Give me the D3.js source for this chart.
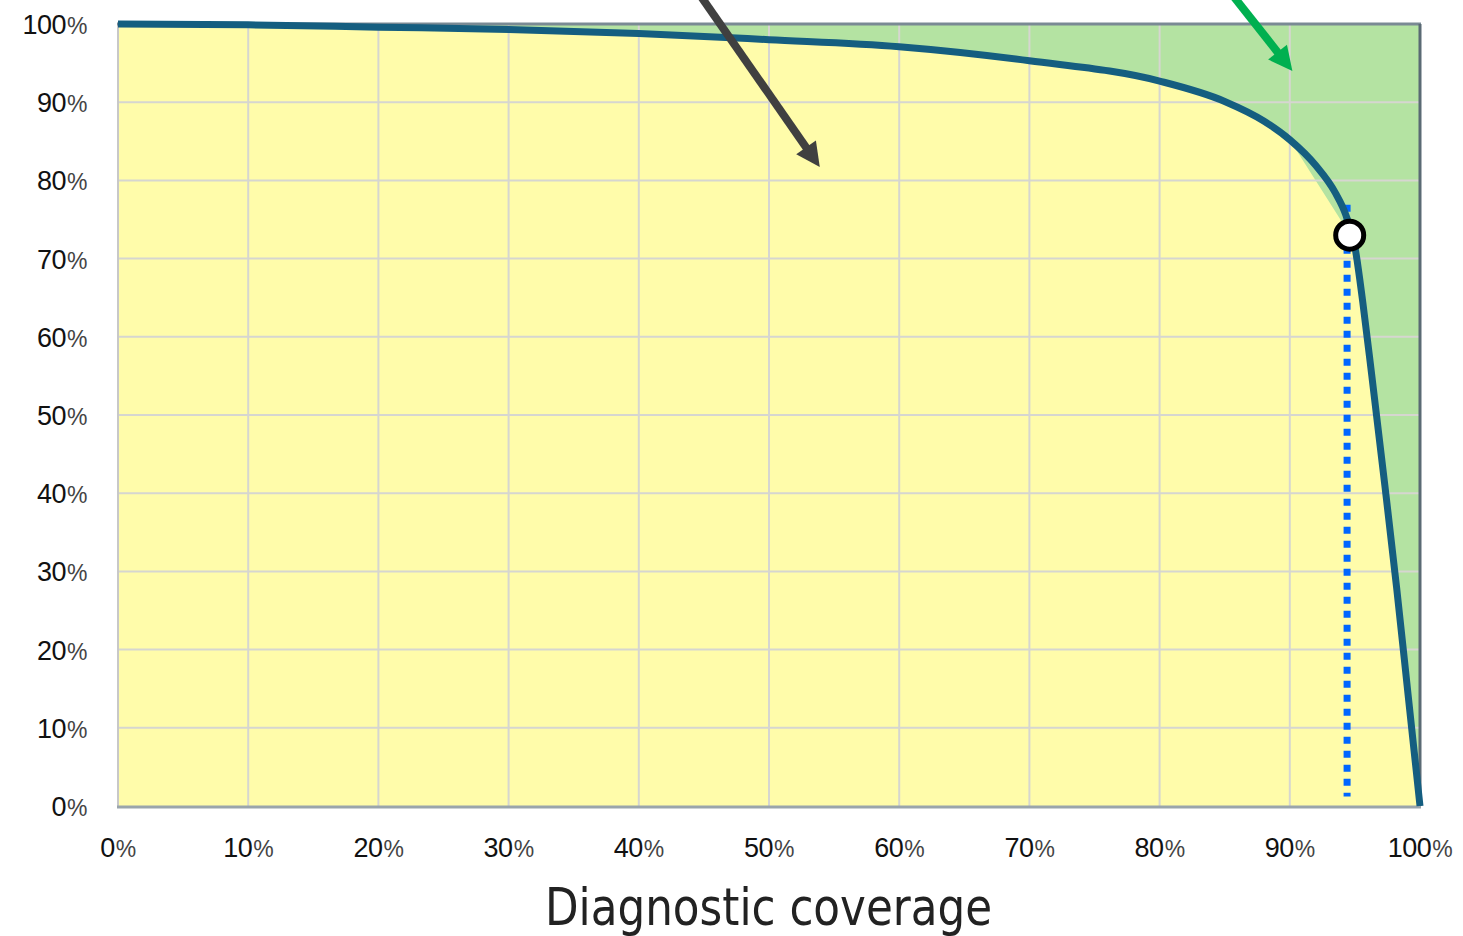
<!DOCTYPE html>
<html><head><meta charset="utf-8">
<script src="https://cdn.jsdelivr.net/npm/d3@7"></script>
<style>body{margin:0;background:#fff}svg{display:block}</style>
</head><body>
<svg id="c" width="1463" height="936"></svg>
<script>
// Data (percent)
const lineX = [0, 10, 20, 30, 40, 50, 60, 70, 80, 85, 88, 90, 92, 93.5, 94.3, 95.0, 95.6, 96.3, 97.3, 98.2, 99.1, 100];
const lineY = [100, 99.9, 99.6, 99.3, 98.8, 98.0, 97.1, 95.3, 92.7, 90.1, 87.6, 85.2, 81.9, 78.4, 75.6, 71.5, 64.5, 55, 41, 28, 14, 0];
const areaX = [0, 10, 20, 30, 40, 50, 60, 70, 75, 80, 85, 88, 90, 94.8, 95.0, 95.6, 96.3, 97.3, 98.2, 99.1, 100];
const areaY = [100, 99.9, 99.6, 99.3, 98.8, 98.0, 97.1, 95.3, 94.1, 92.7, 90.1, 87.6, 85.2, 72.6, 71.5, 64.5, 55, 41, 28, 14, 0];
const xTicks = [0, 10, 20, 30, 40, 50, 60, 70, 80, 90, 100];
const yTicks = [0, 10, 20, 30, 40, 50, 60, 70, 80, 90, 100];
const markerPoint = [94.6, 73.0];
const dottedX = 94.4, dottedYRange = [1.2, 76.9];
const arrows = [
  {from: [44.7, 103.7], to: [53.9, 81.7], color: "#404040"},
  {from: [85.6, 103.7], to: [90.2, 94.0], color: "#00b050"}
];
const xTitle = "Diagnostic coverage";

const svg = d3.select("#c");
const L = 118, R = 1420, T = 24, B = 806;
const x = d3.scaleLinear().domain([0, 100]).range([L, R]);
const y = d3.scaleLinear().domain([0, 100]).range([B, T]);

// green background
svg.append("rect").attr("x", L).attr("y", T).attr("width", R - L).attr("height", B - T).attr("fill", "#b4e3a2");

// yellow area
const areaPts = areaX.map((d, i) => [d, areaY[i]]);
svg.append("path").datum(areaPts)
  .attr("d", d3.area().x(d => x(d[0])).y0(y(0)).y1(d => y(d[1])).curve(d3.curveLinear))
  .attr("fill", "#fffcaa");

// grid
const g = svg.append("g");
g.selectAll(".vx").data(xTicks.slice(1, -1)).join("line")
  .attr("x1", d => x(d)).attr("x2", d => x(d)).attr("y1", T).attr("y2", B)
  .attr("stroke", "#d6d6d0").attr("stroke-width", 2);
g.selectAll(".hy").data(yTicks.slice(1, -1)).join("line")
  .attr("y1", d => y(d)).attr("y2", d => y(d)).attr("x1", L).attr("x2", R)
  .attr("stroke", "#d6d6d0").attr("stroke-width", 2);

// borders
svg.append("line").attr("x1", L).attr("x2", L).attr("y1", T).attr("y2", B).attr("stroke", "#c8c8c8").attr("stroke-width", 2);
svg.append("line").attr("x1", L - 1).attr("x2", R + 1).attr("y1", T).attr("y2", T).attr("stroke", "#7a8a94").attr("stroke-width", 3);
svg.append("line").attr("x1", R).attr("x2", R).attr("y1", T).attr("y2", B).attr("stroke", "#5a6a74").attr("stroke-width", 3);
svg.append("line").attr("x1", L - 1).attr("x2", R + 1).attr("y1", B + 1).attr("y2", B + 1).attr("stroke", "#9aa5ab").attr("stroke-width", 3);

// dotted line
svg.append("line").attr("x1", x(dottedX)).attr("x2", x(dottedX))
  .attr("y1", y(dottedYRange[1])).attr("y2", y(dottedYRange[0]))
  .attr("stroke", "#0066ff").attr("stroke-width", 7).attr("stroke-dasharray", "7,7");

// curve
const linePts = lineX.map((d, i) => [d, lineY[i]]);
svg.append("path").datum(linePts)
  .attr("d", d3.line().x(d => x(d[0])).y(d => y(d[1])).curve(d3.curveMonotoneX))
  .attr("fill", "none").attr("stroke", "#155e80").attr("stroke-width", 7).attr("stroke-linejoin", "round");

// marker
svg.append("circle").attr("cx", x(markerPoint[0])).attr("cy", y(markerPoint[1])).attr("r", 14)
  .attr("fill", "#fff").attr("stroke", "#000").attr("stroke-width", 5);

// arrows
arrows.forEach(a => {
  const x1 = x(a.from[0]), y1 = y(a.from[1]), x2 = x(a.to[0]), y2 = y(a.to[1]);
  const ang = Math.atan2(y2 - y1, x2 - x1);
  const hl = 24, hw = 12;
  const bx = x2 - hl * Math.cos(ang), by = y2 - hl * Math.sin(ang);
  svg.append("line").attr("x1", x1).attr("y1", y1).attr("x2", bx + 2 * Math.cos(ang)).attr("y2", by + 2 * Math.sin(ang))
    .attr("stroke", a.color).attr("stroke-width", 8);
  const px = -Math.sin(ang), py = Math.cos(ang);
  svg.append("path").attr("d", `M${x2},${y2}L${bx + hw * px},${by + hw * py}L${bx - hw * px},${by - hw * py}Z`)
    .attr("fill", a.color);
});

// tick labels
const font = "'Liberation Sans', Arial, sans-serif";
function lab(sel) {
  sel.each(function(d) {
    const t = d3.select(this);
    t.append("tspan").text(d);
    t.append("tspan").text("%").attr("fill", "#444").attr("font-size", 23).attr("dx", 1);
  });
}
svg.append("g").selectAll("text").data(yTicks).join("text")
  .attr("x", 87).attr("y", d => y(d) + 10).attr("text-anchor", "end")
  .attr("font-family", font).attr("font-size", 27).attr("letter-spacing", -0.5).attr("fill", "#111").call(lab);
svg.append("g").selectAll("text").data(xTicks).join("text")
  .attr("x", d => x(d)).attr("y", 857).attr("text-anchor", "middle")
  .attr("font-family", font).attr("font-size", 27).attr("letter-spacing", -0.5).attr("fill", "#111").call(lab);

svg.append("text").attr("x", 545).attr("y", 925)
  .attr("font-family", "'Liberation Sans Narrow', 'DejaVu Sans Condensed', sans-serif").attr("font-size", 51)
  .attr("textLength", 447).attr("lengthAdjust", "spacingAndGlyphs")
  .attr("fill", "#222").text(xTitle);
</script>
</body></html>
